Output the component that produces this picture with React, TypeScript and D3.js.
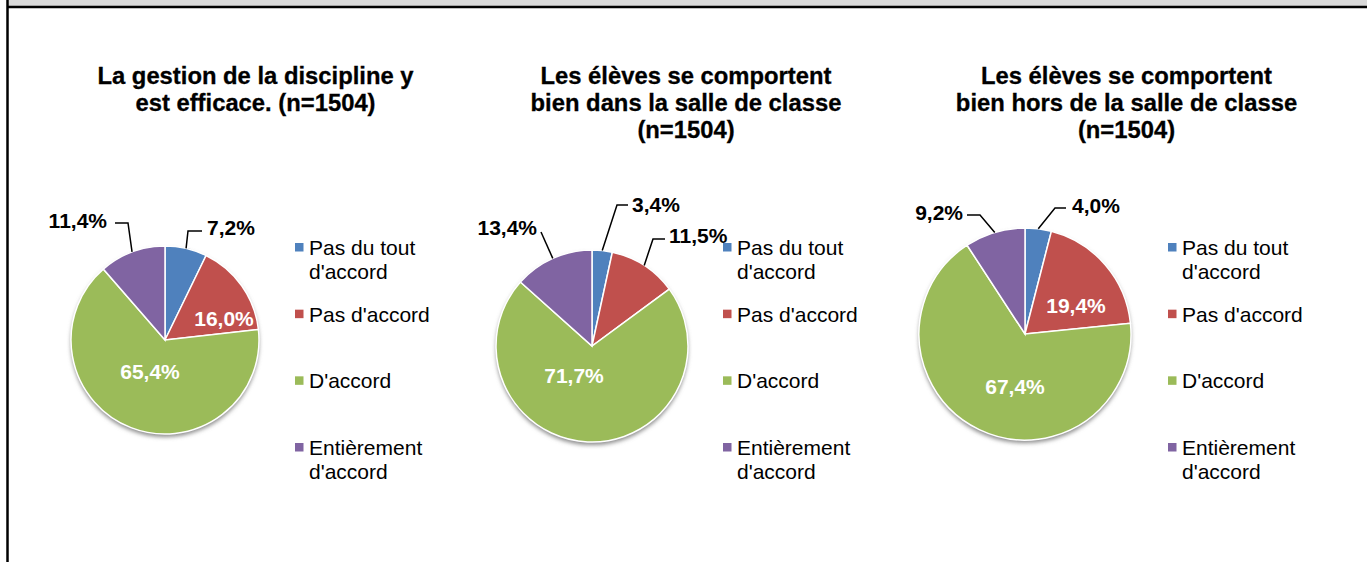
import React from "react";
import * as d3 from "d3";

const categories = ["Pas du tout d'accord", "Pas d'accord", "D'accord", "Entièrement d'accord"];
const legendLines = [["Pas du tout", "d'accord"], ["Pas d'accord"], ["D'accord"], ["Entièrement", "d'accord"]];
const colors = ["#4F81BD", "#C0504D", "#9BBB59", "#8064A2"];

const titles1 = ["La gestion de la discipline y", "est efficace. (n=1504)"];
const titles2 = ["Les élèves se comportent", "bien dans la salle de classe", "(n=1504)"];
const titles3 = ["Les élèves se comportent", "bien hors de la salle de classe", "(n=1504)"];

const values1 = [7.2, 16.0, 65.4, 11.4];
const values2 = [3.4, 11.5, 71.7, 13.4];
const values3 = [4.0, 19.4, 67.4, 9.2];

type Lbl = {
  inside: boolean;
  dx: number;
  dy: number;
  anchor?: string;
  leader?: [number, number][];
};

const charts = [
  {
    titles: titles1, values: values1, cx: 165, cy: 340, r: 94, titleX: 255.5, legendX: 295,
    labels: [
      { inside: false, dx: 42, dy: -105, anchor: "start", leader: [[23, -109], [37, -109]] },
      { inside: true, dx: 59, dy: -14 },
      { inside: true, dx: -15, dy: 39 },
      { inside: false, dx: -58, dy: -112, anchor: "end", leader: [[-37, -117], [-50, -117]] },
    ] as Lbl[],
  },
  {
    titles: titles2, values: values2, cx: 592, cy: 346, r: 96, titleX: 686, legendX: 723,
    labels: [
      { inside: false, dx: 40, dy: -134, anchor: "start", leader: [[25, -141], [36, -141]] },
      { inside: false, dx: 77, dy: -103, anchor: "start", leader: [[61, -107], [73, -107]] },
      { inside: true, dx: -18, dy: 37 },
      { inside: false, dx: -55, dy: -111, anchor: "end", leader: [[-51, -114]] },
    ] as Lbl[],
  },
  {
    titles: titles3, values: values3, cx: 1025, cy: 334, r: 106, titleX: 1126.5, legendX: 1168,
    labels: [
      { inside: false, dx: 47, dy: -121, anchor: "start", leader: [[30, -126], [41, -126]] },
      { inside: true, dx: 51, dy: -21 },
      { inside: true, dx: -10, dy: 60 },
      { inside: false, dx: -62, dy: -114, anchor: "end", leader: [[-45, -119], [-58, -119]] },
    ] as Lbl[],
  },
];

const FONT = "'Liberation Sans', Arial, sans-serif";
const fmt = (v: number) => v.toFixed(1).replace(".", ",") + "%";

function PieChart({ c }: { c: (typeof charts)[number] }) {
  const pie = d3.pie<number>().sort(null).value((d) => d);
  const arcs = pie(c.values);
  const arc = d3.arc<d3.PieArcDatum<number>>().innerRadius(0).outerRadius(c.r);
  const legendY = d3.scaleLinear().domain([0, 3]).range([255, 455]);
  return (
    <g>
      {c.titles.map((t, i) => (
        <text key={i} x={c.titleX} y={84 + i * 27} textAnchor="middle" fontFamily={FONT}
          fontWeight="bold" fontSize={23.8} fill="#000" stroke="#000" strokeWidth={0.3}>{t}</text>
      ))}
      <circle cx={c.cx} cy={c.cy + 3} r={c.r} fill="#8a8a8a" filter="url(#shadow)" />
      <g transform={`translate(${c.cx},${c.cy})`}>
        {arcs.map((a, i) => (
          <path key={i} d={arc(a) || ""} fill={colors[i]} stroke="#fff" strokeWidth={1.5} />
        ))}
        {arcs.map((a, i) => {
          const l = c.labels[i];
          const mid = (a.startAngle + a.endAngle) / 2;
          const sx = Math.sin(mid) * c.r;
          const sy = -Math.cos(mid) * c.r;
          const pts: [number, number][] = l.leader ? [[sx, sy], ...l.leader] : [];
          return (
            <g key={"l" + i}>
              {pts.length > 0 && (
                <path d={d3.line()(pts) || ""} fill="none" stroke="#000" strokeWidth={1.5} />
              )}
              <text x={l.dx} y={l.dy} textAnchor={l.inside ? "middle" : l.anchor}
                fontFamily={FONT} fontWeight="bold" fontSize={21}
                fill={l.inside ? "#fff" : "#000"}>{fmt(c.values[i])}</text>
            </g>
          );
        })}
      </g>
      {legendLines.map((lines, i) => (
        <g key={"lg" + i}>
          <rect x={c.legendX} y={legendY(i) - 12} width={8.5} height={8.5} fill={colors[i]} />
          {lines.map((t, j) => (
            <text key={j} x={c.legendX + 14} y={legendY(i) + j * 24} fontFamily={FONT}
              fontSize={21} fill="#000">{t}</text>
          ))}
        </g>
      ))}
    </g>
  );
}

export default function App() {
  return (
    <div style={{ position: "fixed", left: 0, top: 0 }}>
      <svg width={1367} height={562} style={{ display: "block", background: "#fff" }}>
        <defs>
          <filter id="shadow" x="-20%" y="-20%" width="140%" height="140%">
            <feGaussianBlur stdDeviation={2} />
          </filter>
        </defs>
        <rect x={0} y={0} width={1367} height={562} fill="#fff" />
        <rect x={8} y={0} width={1359} height={6} fill="#D9D9D9" />
        <line x1={7.5} y1={7} x2={1367} y2={7} stroke="#000" strokeWidth={2.5} />
        <line x1={7.5} y1={0} x2={7.5} y2={562} stroke="#000" strokeWidth={2.5} />
        {charts.map((c, i) => (
          <PieChart key={i} c={c} />
        ))}
      </svg>
    </div>
  );
}
